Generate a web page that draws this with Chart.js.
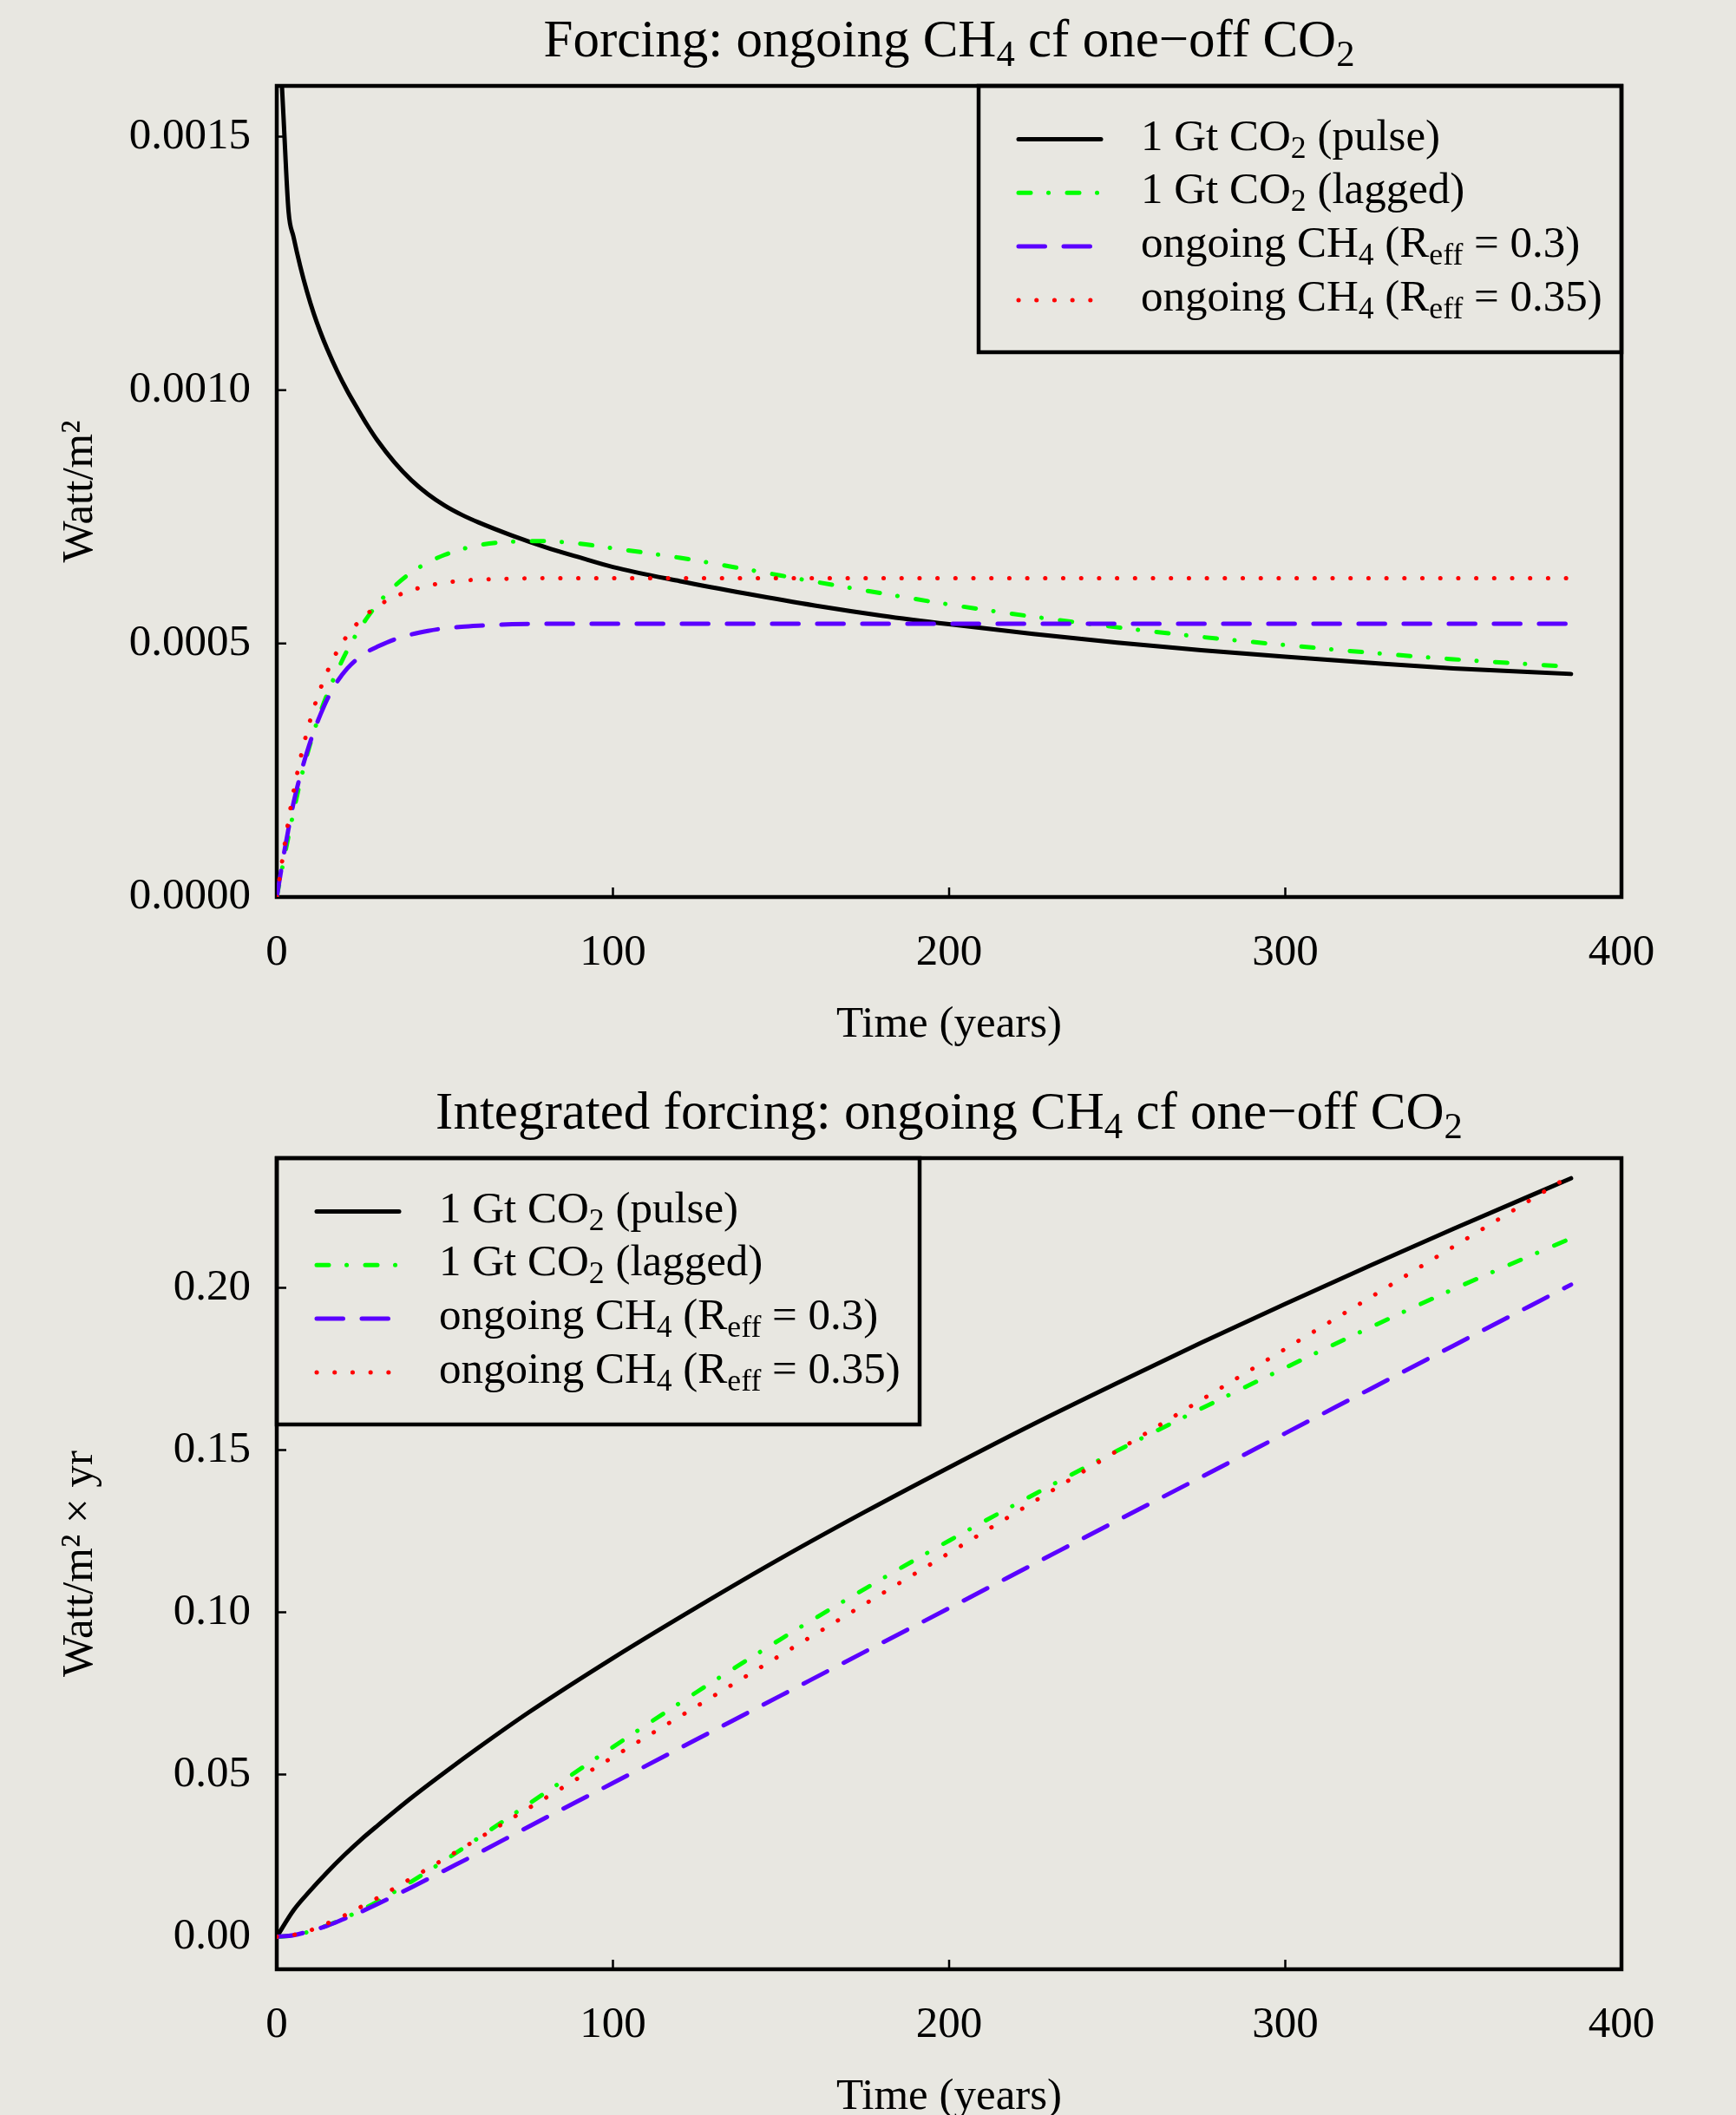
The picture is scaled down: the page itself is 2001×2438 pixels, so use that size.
<!DOCTYPE html>
<html>
<head>
<meta charset="utf-8">
<title>Forcing: ongoing CH4 cf one-off CO2</title>
<script src="https://cdn.jsdelivr.net/npm/chart.js@4/dist/chart.umd.min.js"></script>
<style>
  html, body { margin: 0; padding: 0; background: #e8e7e1; overflow: hidden; }
  .panel { width: 2001px; height: 1236px; }
  canvas { display: block; }
</style>
</head>
<body>
<div class="panel"><canvas id="forcing" width="2001" height="1236"></canvas></div>
<div class="panel"><canvas id="integrated" width="2001" height="1236"></canvas></div>
<script>
// ---- data ----

// top panel: radiative forcing (W/m2) against time (years)
const forcingYears = [0, 2, 3.5, 5, 7, 9, 11, 13, 15, 18, 21, 24, 27, 30, 35, 40, 45, 50, 55, 60,
  70, 80, 90, 100, 120, 140, 160, 180, 200, 225, 250, 275, 300, 325, 350, 385];
const pulseForcing = [0.00180, 0.00154, 0.001353, 0.001302, 0.001244, 0.001194, 0.001151, 0.001114, 0.001081,
  0.001037, 0.000998, 0.0009635, 0.00093, 0.0009, 0.0008575, 0.0008225, 0.0007945, 0.000772, 0.000754, 0.000739,
  0.000713, 0.00069, 0.00067, 0.000651, 0.000623, 0.000598, 0.000575, 0.000555, 0.000538, 0.000519,
  0.000502, 0.000487, 0.000474, 0.000462, 0.000451, 0.00044];
const laggedForcing = [0, 0.00007, 0.00012, 0.000168, 0.000228, 0.00028, 0.000325, 0.000365, 0.0004,
  0.000446, 0.000487, 0.000522, 0.000552, 0.000578, 0.000613, 0.00064, 0.00066, 0.000675, 0.000686, 0.000694,
  0.000701, 0.000702, 0.000697, 0.000688, 0.000669, 0.000646, 0.000622, 0.000599, 0.000577, 0.000553,
  0.000532, 0.000513, 0.000497, 0.000482, 0.000469, 0.000454];
const ch4LowForcing = [0, 0.00008, 0.000135, 0.000186, 0.00024, 0.000286, 0.000326, 0.00036, 0.00039,
  0.000425, 0.000451, 0.00047, 0.000484, 0.000494, 0.000508, 0.000518, 0.000525, 0.00053, 0.000533, 0.000535,
  0.000538, 0.000539, 0.000539, 0.000539, 0.000539, 0.000539, 0.000539, 0.000539, 0.000539, 0.000539,
  0.000539, 0.000539, 0.000539, 0.000539, 0.000539, 0.000539];
const ch4HighForcing = [0, 0.000088, 0.000152, 0.000208, 0.000272, 0.000326, 0.000372, 0.000411, 0.000444,
  0.000485, 0.000516, 0.00054, 0.000559, 0.000574, 0.000592, 0.000605, 0.000614, 0.00062, 0.000624, 0.000626,
  0.000628, 0.000629, 0.000629, 0.000629, 0.000629, 0.000629, 0.000629, 0.000629, 0.000629, 0.000629,
  0.000629, 0.000629, 0.000629, 0.000629, 0.000629, 0.000629];

// bottom panel: integrated forcing (W/m2 x yr)
const integratedYears = [0, 5, 10, 15, 20, 25, 30, 40, 50, 60, 75, 100, 125, 150, 175, 200, 225, 250,
  275, 300, 325, 350, 385];
const pulseIntegrated = [0, 0.0082, 0.0143, 0.0199, 0.0251, 0.0299, 0.0343, 0.0428, 0.0507, 0.0583, 0.0692,
  0.0859, 0.1016, 0.1167, 0.131, 0.1447, 0.158, 0.1707, 0.1831, 0.1951, 0.2068, 0.2182, 0.2338];
const laggedIntegrated = [0, 0.00045, 0.0017, 0.0035, 0.0057, 0.0082, 0.0109, 0.017, 0.0236, 0.0305, 0.041,
  0.0585, 0.0755, 0.0918, 0.1073, 0.1221, 0.1362, 0.1498, 0.1628, 0.1754, 0.1877, 0.1996, 0.2153];
const ch4LowIntegrated = [0, 0.0005, 0.0018, 0.0034, 0.0055, 0.0077, 0.0101, 0.0152, 0.0205, 0.0258, 0.034,
  0.0474, 0.0609, 0.0744, 0.0879, 0.1013, 0.1148, 0.1283, 0.1417, 0.1552, 0.1687, 0.1822, 0.201];
const ch4HighIntegrated = [0, 0.0006, 0.002, 0.0041, 0.0065, 0.0092, 0.012, 0.018, 0.0241, 0.0303, 0.0397,
  0.0554, 0.0711, 0.0869, 0.1026, 0.1183, 0.134, 0.1498, 0.1655, 0.1812, 0.1969, 0.2127, 0.2347];

// series labels, _{..} marks a subscript
const seriesLabels = ['1 Gt CO_{2} (pulse)', '1 Gt CO_{2} (lagged)',
  'ongoing CH_{4} (R_{eff} = 0.3)', 'ongoing CH_{4} (R_{eff} = 0.35)'];

// axis ticks
const timeTicks = [0, 100, 200, 300, 400];
const forcingTicks = [0, 0.0005, 0.0010, 0.0015];
const integratedTicks = [0, 0.05, 0.10, 0.15, 0.20];

// ---- drawing ----
const SERIF = '"Liberation Serif", "Times New Roman", serif';
const BASE = 51;
Chart.defaults.font.family = SERIF;
Chart.defaults.font.size = BASE;
Chart.defaults.color = '#000';

const lineStyles = [
  { borderColor: '#000000', borderDash: [], order: 4 },
  { borderColor: '#00ff00', borderDash: [14, 20.5, 0.1, 21.4], order: 3 },
  { borderColor: '#5a00ff', borderDash: [30.5, 21.5], order: 2 },
  { borderColor: '#ff0000', borderDash: [0.1, 20.6], order: 1 }
];

function parseRich(text) {
  const parts = [];
  const re = /_\{([^}]*)\}/g;
  let last = 0, m;
  while ((m = re.exec(text)) !== null) {
    if (m.index > last) parts.push({ t: text.slice(last, m.index), sub: false });
    parts.push({ t: m[1], sub: true });
    last = re.lastIndex;
  }
  if (last < text.length) parts.push({ t: text.slice(last), sub: false });
  return parts;
}

function drawRich(ctx, text, x, y, size, align) {
  const parts = parseRich(text);
  const subSize = size * 0.7;
  let width = 0;
  parts.forEach(p => {
    ctx.font = (p.sub ? subSize : size) + 'px ' + SERIF;
    p.w = ctx.measureText(p.t).width;
    width += p.w;
  });
  let cx = align === 'center' ? x - width / 2 : x;
  ctx.textAlign = 'left';
  ctx.textBaseline = 'alphabetic';
  ctx.fillStyle = '#000';
  parts.forEach(p => {
    ctx.font = (p.sub ? subSize : size) + 'px ' + SERIF;
    ctx.fillText(p.t, cx, p.sub ? y + size * 0.18 : y);
    cx += p.w;
  });
}

// box round the plot, inward ticks, title and legend like base R graphics
const framePlugin = {
  id: 'frame',
  beforeDatasetsDraw(chart, args, opts) {
    const { ctx, chartArea: a } = chart;
    ctx.save();
    ctx.strokeStyle = '#000';
    ctx.lineWidth = 2.5;
    const xs = chart.scales.x, ys = chart.scales.y;
    ctx.beginPath();
    xs.ticks.forEach(t => {
      const px = xs.getPixelForValue(t.value);
      ctx.moveTo(px, a.bottom);
      ctx.lineTo(px, a.bottom - 11);
    });
    ys.ticks.forEach(t => {
      const py = ys.getPixelForValue(t.value);
      ctx.moveTo(a.left, py);
      ctx.lineTo(a.left + 11, py);
    });
    ctx.stroke();
    ctx.lineWidth = 4.5;
    ctx.strokeRect(a.left, a.top, a.right - a.left, a.bottom - a.top);
    ctx.restore();
  },
  afterDraw(chart, args, opts) {
    const { ctx, chartArea: a } = chart;
    ctx.save();
    drawRich(ctx, opts.title, (a.left + a.right) / 2, a.top - 34, 61, 'center');

    const boxW = 741, boxH = 307;
    const bx = opts.legend === 'topleft' ? a.left : a.right - boxW;
    const by = a.top;
    ctx.lineWidth = 4.5;
    ctx.strokeStyle = '#000';
    ctx.strokeRect(bx, by, boxW, boxH);
    chart.data.datasets.forEach((ds, i) => {
      const cy = by + 61.5 + i * 61.8;
      ctx.save();
      ctx.strokeStyle = ds.borderColor;
      ctx.lineWidth = ds.borderWidth;
      ctx.lineCap = 'round';
      ctx.setLineDash(ds.borderDash);
      ctx.beginPath();
      ctx.moveTo(bx + 46, cy);
      ctx.lineTo(bx + 141, cy);
      ctx.stroke();
      ctx.restore();
      drawRich(ctx, ds.label, bx + 187, cy + 12, BASE, 'left');
    });
    ctx.restore();
  }
};

function makeChart(id, years, series, yMin, yMax, yTicks, digits, yTitle, title, legendPos) {
  return new Chart(document.getElementById(id), {
    type: 'line',
    data: {
      datasets: series.map((vals, i) => ({
        label: seriesLabels[i],
        data: years.map((x, j) => ({ x: x, y: vals[j] })),
        borderColor: lineStyles[i].borderColor,
        borderDash: lineStyles[i].borderDash,
        order: lineStyles[i].order,
        borderWidth: 5,
        borderCapStyle: 'round',
        borderJoinStyle: 'round',
        cubicInterpolationMode: 'monotone',
        pointRadius: 0,
        fill: false
      }))
    },
    options: {
      responsive: false,
      animation: false,
      devicePixelRatio: 1,
      layout: { padding: { top: 99, right: 132, bottom: 0, left: 0 } },
      plugins: {
        legend: { display: false },
        tooltip: { enabled: false },
        frame: { title: title, legend: legendPos }
      },
      scales: {
        x: {
          type: 'linear',
          min: 0,
          max: 400,
          grid: { display: false, drawTicks: false },
          border: { display: false },
          afterBuildTicks: s => { s.ticks = timeTicks.map(v => ({ value: v })); },
          afterFit: s => { s.height = 202; },
          ticks: { padding: 34, maxRotation: 0, autoSkip: false, callback: v => String(v) },
          title: { display: true, text: 'Time (years)', padding: { top: 0, bottom: 24 } }
        },
        y: {
          type: 'linear',
          min: yMin,
          max: yMax,
          grid: { display: false, drawTicks: false },
          border: { display: false },
          afterBuildTicks: s => { s.ticks = yTicks.map(v => ({ value: v })); },
          afterFit: s => { s.width = 319; },
          ticks: { padding: 30, autoSkip: false, callback: v => Number(v).toFixed(digits) },
          title: { display: true, text: yTitle, padding: { top: 62, bottom: 0 } }
        }
      }
    },
    plugins: [framePlugin]
  });
}

makeChart('forcing', forcingYears,
  [pulseForcing, laggedForcing, ch4LowForcing, ch4HighForcing],
  0, 0.0016, forcingTicks, 4, 'Watt/m\u00B2',
  'Forcing: ongoing CH_{4} cf one\u2212off CO_{2}', 'topright');

makeChart('integrated', integratedYears,
  [pulseIntegrated, laggedIntegrated, ch4LowIntegrated, ch4HighIntegrated],
  -0.01, 0.24, integratedTicks, 2, 'Watt/m\u00B2 \u00D7 yr',
  'Integrated forcing: ongoing CH_{4} cf one\u2212off CO_{2}', 'topleft');
</script>
</body>
</html>
